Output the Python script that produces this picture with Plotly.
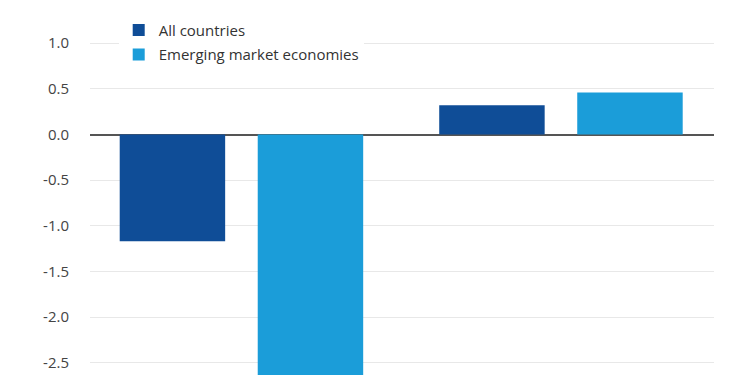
import plotly.graph_objects as go

categories = ["Group 1", "Group 2"]
all_countries = [-1.17, 0.32]
emerging = [-2.85, 0.46]
tick_vals = [-2.5, -2.0, -1.5, -1.0, -0.5, 0.0, 0.5, 1.0]
tick_text = ["-2.5", "-2.0", "-1.5", "-1.0", "-0.5", "0.0", "0.5", "1.0"]

fig = go.Figure()
fig.add_trace(go.Bar(x=categories, y=all_countries, name="All countries",
                     legendgroup="a",
                     marker=dict(color="#0f4d97", line=dict(width=0))))
fig.add_trace(go.Bar(x=categories, y=emerging, name="Emerging market economies",
                     legendgroup="b",
                     marker=dict(color="#1b9dd9", line=dict(width=0))))

fig.update_layout(
    width=750, height=375,
    margin=dict(l=82, r=44, t=0, b=8),
    paper_bgcolor="white", plot_bgcolor="white",
    barmode="group", bargap=0.136, bargroupgap=0.236,
    font=dict(family="Open Sans, sans-serif", size=15, color="#444444"),
    showlegend=True,
    legend=dict(x=0.046, y=0.984, xanchor="left", yanchor="top",
                bgcolor="white", borderwidth=0,
                font=dict(size=15, color="#333333"),
                traceorder="grouped", tracegroupgap=2),
    xaxis=dict(range=[-0.474, 1.479], showticklabels=False, showgrid=False,
               zeroline=False, showline=False, ticks=""),
    yaxis=dict(range=[-2.634, 1.3855], tickvals=tick_vals, ticktext=tick_text,
               showgrid=True, gridcolor="#e8e8e8", gridwidth=1,
               zeroline=True, zerolinecolor="#555555", zerolinewidth=1.5,
               ticks="", ticklabelstandoff=20, showline=False),
)

fig.write_html("out.html")
